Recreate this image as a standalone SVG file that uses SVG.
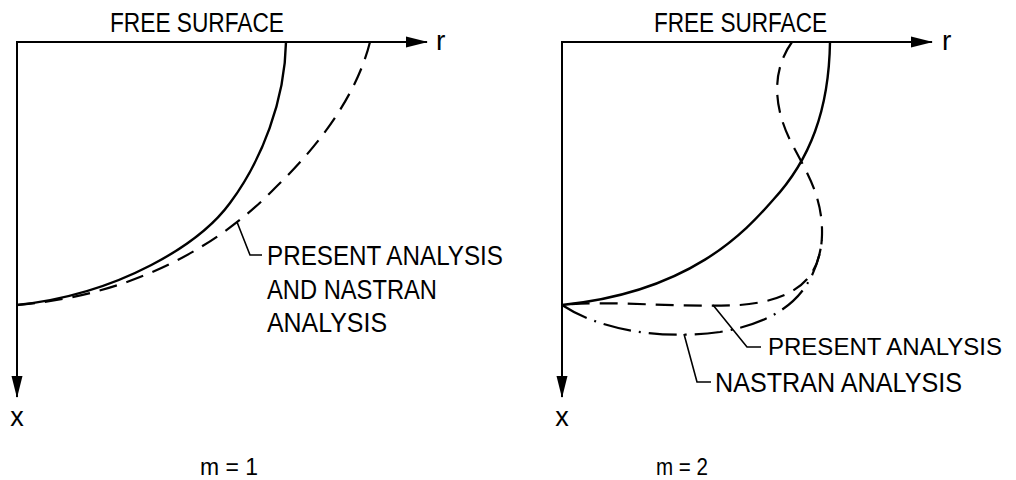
<svg xmlns="http://www.w3.org/2000/svg" width="1016" height="480" viewBox="0 0 1016 480">
  <style>
    .axis { fill: none; stroke: #000; stroke-width: 2; }
    .solid { fill: none; stroke: #000; stroke-width: 2.4; }
    .dash { fill: none; stroke: #000; stroke-width: 2.2; stroke-dasharray: 18 10; }
    .dashdot { fill: none; stroke: #000; stroke-width: 2.2; stroke-dasharray: 28 8 2 8; }
    .leader { fill: none; stroke: #000; stroke-width: 1.6; }
    text { font-family: "Liberation Sans", Arial, sans-serif; fill: #000; }
    .lbl { font-size: 27px; }
    .cap { font-size: 23px; }
  </style>
  <defs>
    <marker id="arrow" markerUnits="userSpaceOnUse" markerWidth="22" markerHeight="12" refX="21" refY="6" orient="auto-start-reverse">
      <path d="M0,0.5 L22,6 L0,11.5 Z" fill="#000"/>
    </marker>
  </defs>

  <g id="left-panel">
    <g id="left-axes">
      <path class="axis" d="M17,397 V42 H427" marker-start="url(#arrow)" marker-end="url(#arrow)"/>
      <text class="lbl" x="110" y="32" textLength="174" lengthAdjust="spacingAndGlyphs">FREE SURFACE</text>
      <text class="lbl" x="436" y="50" style="font-size:28px">r</text>
      <text class="lbl" x="17" y="426" text-anchor="middle">x</text>
    </g>
    <g id="left-curves">
      <path class="solid" d="M286,42 C285,100 262,160 230,203 C200,244 120,294 17,305"/>
      <path class="dash" d="M370,42 C358,90 325,140 275,188 C225,240 140,295 17,305"/>
    </g>
    <g id="left-label">
      <path class="leader" d="M237,222 L250,255 H262"/>
      <text class="lbl" x="267" y="265" textLength="236" lengthAdjust="spacingAndGlyphs">PRESENT ANALYSIS</text>
      <text class="lbl" x="267" y="299" textLength="170" lengthAdjust="spacingAndGlyphs">AND NASTRAN</text>
      <text class="lbl" x="267" y="332" textLength="120" lengthAdjust="spacingAndGlyphs">ANALYSIS</text>
    </g>
    <text class="cap" x="200" y="475" textLength="58" lengthAdjust="spacingAndGlyphs">m = 1</text>
  </g>

  <g id="right-panel">
    <g id="right-axes">
      <path class="axis" d="M562,397 V42 H932" marker-start="url(#arrow)" marker-end="url(#arrow)"/>
      <text class="lbl" x="654" y="32" textLength="173" lengthAdjust="spacingAndGlyphs">FREE SURFACE</text>
      <text class="lbl" x="942" y="50" style="font-size:28px">r</text>
      <text class="lbl" x="562" y="426" text-anchor="middle">x</text>
    </g>
    <g id="right-curves">
      <path class="solid" d="M830,42 C829,110 810,160 773,200 C745,232 690,292 562,305"/>
      <path class="dash" d="M792,42 C772,70 773,105 790,140 C805,170 823,195 822,235 C821,275 800,300 740,305 C680,308 610,300 562,305"/>
      <path class="dashdot" d="M562,305 C600,330 660,340 720,332 C780,322 815,295 822,240"/>
    </g>
    <g id="right-labels">
      <path class="leader" d="M713,305 L747,347 H761"/>
      <text class="lbl" x="768" y="355" style="font-size:24.5px" textLength="234" lengthAdjust="spacingAndGlyphs">PRESENT ANALYSIS</text>
      <path class="leader" d="M684,334 L697,382 H711"/>
      <text class="lbl" x="715" y="392" textLength="247" lengthAdjust="spacingAndGlyphs">NASTRAN ANALYSIS</text>
    </g>
    <text class="cap" x="656" y="475" textLength="52" lengthAdjust="spacingAndGlyphs">m = 2</text>
  </g>
</svg>
